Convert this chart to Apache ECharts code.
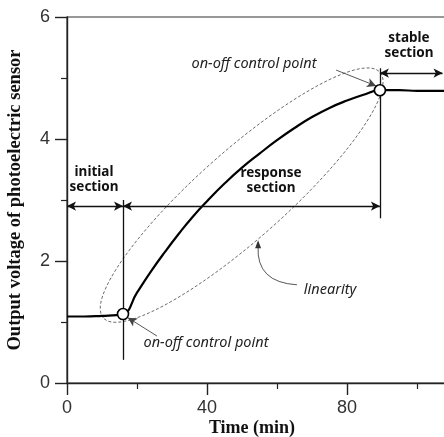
<!DOCTYPE html>
<html>
<head>
<meta charset="utf-8">
<script src="https://cdn.jsdelivr.net/npm/echarts@6/dist/echarts.min.js"></script>
<style>
  html, body { margin: 0; background: #fff; }
  #main { width: 444px; height: 437px; }
</style>
</head>
<body>
<div id="main"></div>
<script>
  // sensor response curve (time in min, voltage in V)
  var times = [0, 5, 10, 13, 16, 20, 24, 28, 32, 36, 40, 45, 50, 55, 60, 65, 70, 75, 80, 85, 89.4, 95, 100, 108];
  var voltages = [1.09, 1.09, 1.10, 1.11, 1.13, 1.48, 1.83, 2.15, 2.45, 2.73, 2.98, 3.27, 3.53, 3.76, 3.98, 4.18, 4.36, 4.51, 4.63, 4.73, 4.80, 4.80, 4.79, 4.79];
  // on-off control points
  var controlTimes = [16, 89.4];
  var controlVoltages = [1.13, 4.80];
  // section boundaries
  var sectionEdges = [0, 16, 89.4, 107.3];
  var sectionArrowLevels = [2.9, 2.9, 5.08];
  var xTickStep = 40;
  var yTickStep = 2;

  var curve = times.map(function (t, i) { return [t, voltages[i]]; });
  var points = controlTimes.map(function (t, i) { return [t, controlVoltages[i]]; });

  var black = {color: '#111', width: 1.3, type: 'solid'};
  var grey = {color: '#444', width: 0.9, type: 'solid'};
  function seg(a, b, s1, s2, style) {
    return [{coord: a, symbol: s1, lineStyle: style}, {coord: b, symbol: s2, lineStyle: style}];
  }

  var chart = echarts.init(document.getElementById('main'));
  var axisFont = {fontSize: 18, color: '#333', fontFamily: 'Liberation Sans'};

  chart.setOption({
    animation: false,
    // plot runs past the right edge of the picture (0..120 min, cut at ~108)
    grid: {left: 67, width: 420, top: 17, height: 366, outerBoundsMode: 'none', containLabel: false,
      show: true, borderColor: '#333', borderWidth: 1.2},
    xAxis: {
      type: 'value', min: 0, max: 120, interval: xTickStep,
      axisLine: {show: true, onZero: false, lineStyle: {color: '#222', width: 1.4}},
      axisTick: {show: true, length: 12, lineStyle: {color: '#222', width: 1.4}},
      minorTick: {show: true, splitNumber: 2, length: 6, lineStyle: {color: '#222', width: 1.2}},
      splitLine: {show: false},
      axisLabel: Object.assign({margin: 16}, axisFont)
    },
    yAxis: {
      type: 'value', min: 0, max: 6, interval: yTickStep,
      axisLine: {show: true, onZero: false, lineStyle: {color: '#222', width: 1.4}},
      axisTick: {show: true, length: 12, lineStyle: {color: '#222', width: 1.4}},
      minorTick: {show: true, splitNumber: 2, length: 6, lineStyle: {color: '#222', width: 1.2}},
      splitLine: {show: false},
      axisLabel: Object.assign({margin: 17}, axisFont)
    },
    series: [
      {
        type: 'line',
        data: curve,
        smooth: true,
        showSymbol: false,
        silent: true,
        lineStyle: {color: '#000', width: 2.2},
        markLine: {
          silent: true,
          animation: false,
          symbolSize: [7, 9],
          label: {show: false},
          data: [
            seg([sectionEdges[1], 0.38], [sectionEdges[1], 3.0], 'none', 'none', black),
            seg([sectionEdges[2], 2.70], [sectionEdges[2], 5.16], 'none', 'none', black),
            seg([sectionEdges[0], sectionArrowLevels[0]], [sectionEdges[1], sectionArrowLevels[0]], 'arrow', 'arrow', black),
            seg([sectionEdges[1], sectionArrowLevels[1]], [sectionEdges[2], sectionArrowLevels[1]], 'arrow', 'arrow', black),
            seg([sectionEdges[2], sectionArrowLevels[2]], [sectionEdges[3], sectionArrowLevels[2]], 'arrow', 'arrow', black),
            seg([76.9, 5.13], [88.3, 4.87], 'none', 'arrow', grey),
            seg([25.7, 0.77], [17.4, 1.07], 'none', 'arrow', grey)
          ]
        }
      },
      {
        type: 'scatter',
        data: points,
        symbol: 'circle',
        symbolSize: 11,
        silent: true,
        z: 5,
        itemStyle: {color: '#fff', opacity: 1, borderColor: '#000', borderWidth: 1.6}
      }
    ]
  });

  // dashed ellipse round the response curve, curved "linearity" arrow, text labels
  function px(p) { return chart.convertToPixel({gridIndex: 0}, p); }
  var c = px([49.9, 3.08]);
  var a0 = px([65.7, 1.61]), a1 = px([54.0, 1.65]), a2 = px([54.6, 2.34]);
  var bold = 'bold 13.5px "Noto Sans"';
  var ital = 'italic 14.5px "Noto Sans"';
  function txt(s, x, y, font, color) {
    return {type: 'text', x: x, y: y, silent: true, z: 10,
      style: {text: s, font: font, fill: color || '#111', align: 'center', verticalAlign: 'middle', lineHeight: 15}};
  }
  chart.setOption({
    graphic: [
      {type: 'ellipse', x: c[0], y: c[1], rotation: 0.726, silent: true, z: 1,
        shape: {cx: 0, cy: 0, rx: 185, ry: 44},
        style: {fill: null, stroke: '#666', lineWidth: 0.9, lineDash: [3, 2]}},
      {type: 'bezierCurve', silent: true, z: 3,
        shape: {x1: a0[0], y1: a0[1], cpx1: a1[0], cpy1: a1[1], x2: a2[0], y2: a2[1] + 6},
        style: {fill: null, stroke: '#444', lineWidth: 0.9}},
      {type: 'polygon', silent: true, z: 3,
        shape: {points: [[a2[0], a2[1]], [a2[0] - 3, a2[1] + 8], [a2[0] + 3, a2[1] + 8]]},
        style: {fill: '#333'}},
      txt('initial\nsection', 94, 180, bold),
      txt('response\nsection', 271, 181, bold),
      txt('stable\nsection', 409, 46, bold),
      txt('on-off control point', 254, 64, ital, '#222'),
      txt('on-off control point', 206, 343, ital, '#222'),
      txt('linearity', 330, 290, ital, '#222'),
      txt('Time (min)', 252, 428, 'bold 18px "Liberation Serif"', '#111'),
      {type: 'text', x: 15, y: 200, rotation: Math.PI / 2, silent: true,
        style: {text: 'Output voltage of photoelectric sensor', font: 'bold 18.5px "Liberation Serif"',
          fill: '#111', align: 'center', verticalAlign: 'middle'}}
    ]
  });
</script>
</body>
</html>
